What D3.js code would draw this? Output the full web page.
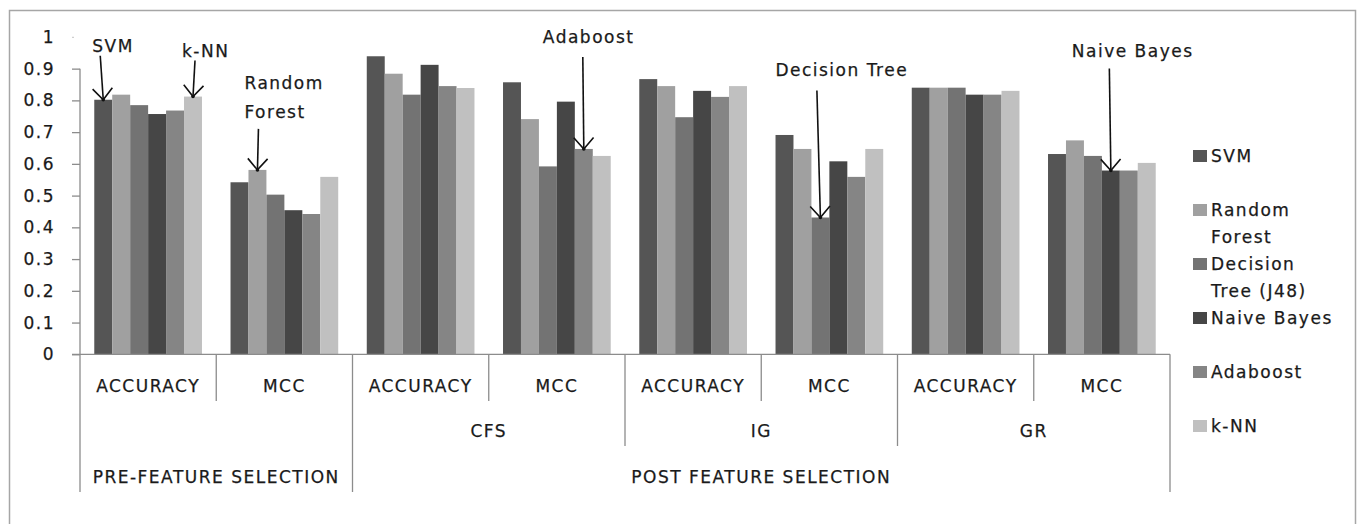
<!DOCTYPE html>
<html><head><meta charset="utf-8">
<script src="https://cdn.jsdelivr.net/npm/d3@7"></script>
<style>
html,body{margin:0;padding:0;background:#fff;}
svg text{font-family:"DejaVu Sans",sans-serif;fill:#1a1a1a;stroke:#1a1a1a;stroke-width:0.25px;}
</style></head>
<body><svg id="chart" width="1366" height="524"></svg>
<script>
// ---- data ----
const metrics = ["ACCURACY","MCC","ACCURACY","MCC","ACCURACY","MCC","ACCURACY","MCC"];
const methods = ["","","CFS","CFS","IG","IG","GR","GR"];
const phases = ["PRE-FEATURE SELECTION","PRE-FEATURE SELECTION","POST FEATURE SELECTION","POST FEATURE SELECTION","POST FEATURE SELECTION","POST FEATURE SELECTION","POST FEATURE SELECTION","POST FEATURE SELECTION"];
const seriesNames = ["SVM","Random Forest","Decision Tree (J48)","Naive Bayes","Adaboost","k-NN"];
const legendLines = [["SVM"],["Random","Forest"],["Decision","Tree (J48)"],["Naive Bayes"],["Adaboost"],["k-NN"]];
const svm  = [0.802,0.542,0.939,0.857,0.867,0.691,0.840,0.631];
const rf   = [0.818,0.581,0.884,0.741,0.845,0.647,0.840,0.674];
const dt   = [0.785,0.503,0.818,0.592,0.747,0.431,0.840,0.625];
const nb   = [0.757,0.454,0.912,0.796,0.830,0.608,0.818,0.579];
const ada  = [0.768,0.442,0.845,0.647,0.811,0.559,0.818,0.579];
const knn  = [0.812,0.559,0.839,0.625,0.845,0.647,0.830,0.603];
const seriesValues = [svm, rf, dt, nb, ada, knn];
const yTicks = [0,0.1,0.2,0.3,0.4,0.5,0.6,0.7,0.8,0.9,1];
const yTickLabels = ["0","0.1","0.2","0.3","0.4","0.5","0.6","0.7","0.8","0.9","1"];
// annotations: group index, series index, text lines
const annotations = [
  {g:0, s:0, lines:["SVM"]},
  {g:0, s:5, lines:["k-NN"]},
  {g:1, s:1, lines:["Random","Forest"]},
  {g:3, s:4, lines:["Adaboost"]},
  {g:5, s:2, lines:["Decision Tree"]},
  {g:7, s:3, lines:["Naive Bayes"]}
];

// ---- styles / layout ----
const colors = ["#555555","#a0a0a0","#737373","#464646","#858585","#c0c0c0"];
const annoLayout = [
  {sx:-3, sy:-44, tx:-11, ty:-54, anchor:"start"},
  {sx:2,  sy:-36, tx:-11, ty:-46, anchor:"start"},
  {sx:1,  sy:-41, tx:-13, ty:-87, anchor:"start"},
  {sx:-1, sy:-92, tx:-41, ty:-112, anchor:"start"},
  {sx:-3.5, sy:-127, tx:-45, ty:-147, anchor:"start"},
  {sx:-1.5, sy:-102, tx:-39, ty:-119, anchor:"start"}
];
const FS = 17, LS = 1.5;
const svg = d3.select("#chart");

// outer border
svg.append("rect").attr("x",9.5).attr("y",10.5).attr("width",1346).attr("height",530)
  .attr("fill","none").attr("stroke","#a6a6a6").attr("stroke-width",1.5);

const groupKeys = metrics.map((d,i)=>"g"+i);
const x0 = d3.scaleBand().domain(groupKeys).range([80,1170]).padding(0);
const x1 = d3.scaleBand().domain(seriesNames).range([0,x0.bandwidth()]).paddingInner(0).paddingOuter(0.795);
const y = d3.scaleLinear().domain([0,1]).range([354.3,36.9]);

// bars
const gBars = svg.append("g");
seriesNames.forEach((s,si)=>{
  gBars.selectAll(null).data(seriesValues[si]).enter().append("rect")
    .attr("x",(d,i)=>x0(groupKeys[i])+x1(s))
    .attr("y",d=>y(d))
    .attr("width",x1.bandwidth())
    .attr("height",d=>y(0)-y(d))
    .attr("fill",colors[si]);
});

// y axis
const yAxis = d3.axisLeft(y).tickValues(yTicks).tickFormat((d,i)=>yTickLabels[i])
  .tickSize(8).tickPadding(17).tickSizeOuter(0);
const gy = svg.append("g").attr("transform","translate(80,0)").call(yAxis);
gy.select(".domain").remove();
gy.selectAll(".tick line").attr("stroke","#8c8c8c").attr("stroke-width",1.3);
gy.selectAll(".tick").filter(d=>d===1).select("line").attr("stroke","#cfcfcf").attr("x2",-6).attr("x1",-8);
gy.selectAll(".tick text").attr("font-size",FS).attr("letter-spacing",LS).attr("fill","#1a1a1a")
  .style("font-family","'DejaVu Sans',sans-serif");
gy.append("line").attr("x1",0).attr("x2",0).attr("y1",y(0)).attr("y2",y(0.9))
  .attr("stroke","#8c8c8c").attr("stroke-width",1.3);

// baseline
svg.append("line").attr("x1",72).attr("x2",1170).attr("y1",y(0)).attr("y2",y(0))
  .attr("stroke","#8c8c8c").attr("stroke-width",1.3);

// hierarchical category axis
const base = y(0);
const lvl1Bottom = 401, lvl2Bottom = 446, lvl3Bottom = 492;
const gx = svg.append("g");
const div = (x,y2)=>gx.append("line").attr("x1",x).attr("x2",x).attr("y1",base).attr("y2",y2)
  .attr("stroke","#8c8c8c").attr("stroke-width",1.3);
groupKeys.forEach((k,i)=>{
  const left = x0(k);
  let bottom = lvl1Bottom;
  if (i===0 || phases[i]!==phases[i-1]) bottom = lvl3Bottom;
  else if (methods[i]!==methods[i-1]) bottom = lvl2Bottom;
  div(left,bottom);
  gx.append("text").attr("x",left+x0.bandwidth()/2).attr("y",386).attr("dy","0.35em")
    .attr("text-anchor","middle").attr("font-size",FS).attr("letter-spacing",LS).text(metrics[i]);
});
div(x0.range()[1], lvl3Bottom);
const methodSpans = d3.groups(groupKeys.map((k,i)=>({k,i})), d=>methods[d.i]);
methodSpans.forEach(([m,arr])=>{
  if(!m) return;
  const l = x0(arr[0].k), r = x0(arr[arr.length-1].k)+x0.bandwidth();
  gx.append("text").attr("x",(l+r)/2).attr("y",431).attr("dy","0.35em")
    .attr("text-anchor","middle").attr("font-size",FS).attr("letter-spacing",LS).text(m);
});
const phaseSpans = d3.groups(groupKeys.map((k,i)=>({k,i})), d=>phases[d.i]);
phaseSpans.forEach(([p,arr])=>{
  const l = x0(arr[0].k), r = x0(arr[arr.length-1].k)+x0.bandwidth();
  gx.append("text").attr("x",(l+r)/2).attr("y",477).attr("dy","0.35em")
    .attr("text-anchor","middle").attr("font-size",FS).attr("letter-spacing",LS).text(p);
});

// legend
const gl = svg.append("g");
let ly = 156;
legendLines.forEach((lines,i)=>{
  gl.append("rect").attr("x",1193).attr("y",ly-6).attr("width",14).attr("height",12).attr("fill",colors[i]);
  lines.forEach((t,j)=>{
    gl.append("text").attr("x",1211).attr("y",ly+j*27).attr("dy","0.35em")
      .attr("font-size",FS).attr("letter-spacing",LS).text(t);
  });
  ly += 54;
});

// annotations
const ga = svg.append("g");
annotations.forEach((a,i)=>{
  const L = annoLayout[i];
  const tipX = x0(groupKeys[a.g]) + x1(seriesNames[a.s]) + x1.bandwidth()/2;
  const tipY = y(seriesValues[a.s][a.g]);
  const sx = tipX + L.sx, sy = tipY + L.sy;
  ga.append("line").attr("x1",sx).attr("y1",sy).attr("x2",tipX).attr("y2",tipY)
    .attr("stroke","#111").attr("stroke-width",1.6);
  const ang = Math.atan2(tipY-sy, tipX-sx);
  const len = 15, spread = 0.72;
  const p1 = [tipX - len*Math.cos(ang-spread), tipY - len*Math.sin(ang-spread)];
  const p2 = [tipX - len*Math.cos(ang+spread), tipY - len*Math.sin(ang+spread)];
  ga.append("path").attr("d",`M${p1[0]},${p1[1]}L${tipX},${tipY}L${p2[0]},${p2[1]}`)
    .attr("fill","none").attr("stroke","#111").attr("stroke-width",1.6);
  ga.append("circle").attr("cx",tipX).attr("cy",tipY).attr("r",1.8).attr("fill","#111");
  a.lines.forEach((t,j)=>{
    ga.append("text").attr("x",tipX+L.tx).attr("y",tipY+L.ty+j*29).attr("dy","0.35em")
      .attr("text-anchor",L.anchor).attr("font-size",FS).attr("letter-spacing",LS).text(t);
  });
});
</script>
</body></html>
